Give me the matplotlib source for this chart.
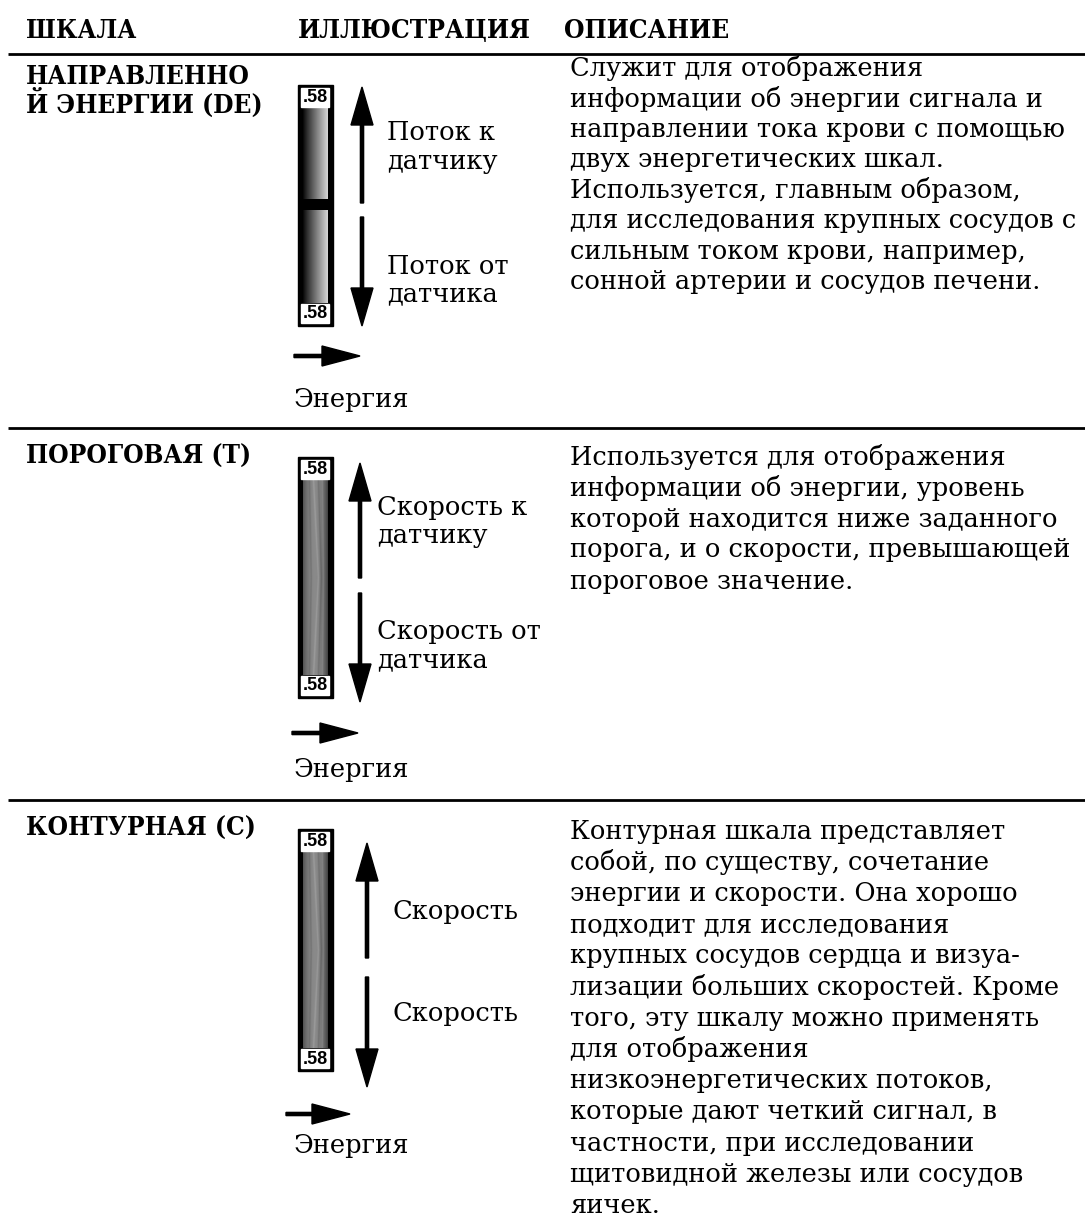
import numpy as np
import matplotlib
matplotlib.use("Agg")
import matplotlib.pyplot as plt
from matplotlib.patches import Rectangle, FancyArrow
from matplotlib import font_manager

# данные таблицы
headers = ["ШКАЛА", "ИЛЛЮСТРАЦИЯ", "ОПИСАНИЕ"]
scale_names = [["НАПРАВЛЕННО", "Й ЭНЕРГИИ (DE)"],
               ["ПОРОГОВАЯ (Т)"],
               ["КОНТУРНАЯ (С)"]]
up_labels = [["Поток к", "датчику"], ["Скорость к", "датчику"], ["Скорость"]]
down_labels = [["Поток от", "датчика"], ["Скорость от", "датчика"], ["Скорость"]]
energy_label = "Энергия"
bar_value = ".58"
descriptions = [
    ["Служит для отображения",
     "информации об энергии сигнала и",
     "направлении тока крови с помощью",
     "двух энергетических шкал.",
     "Используется, главным образом,",
     "для исследования крупных сосудов с",
     "сильным током крови, например,",
     "сонной артерии и сосудов печени."],
    ["Используется для отображения",
     "информации об энергии, уровень",
     "которой находится ниже заданного",
     "порога, и о скорости, превышающей",
     "пороговое значение."],
    ["Контурная шкала представляет",
     "собой, по существу, сочетание",
     "энергии и скорости. Она хорошо",
     "подходит для исследования",
     "крупных сосудов сердца и визуа-",
     "лизации больших скоростей. Кроме",
     "того, эту шкалу можно применять",
     "для отображения",
     "низкоэнергетических потоков,",
     "которые дают четкий сигнал, в",
     "частности, при исследовании",
     "щитовидной железы или сосудов",
     "яичек."],
]

# раскладка (пиксели)
row_top = [68, 457, 831]
row_step = [30.5, 31.0, 31.2]
title_top = [76, 456, 828]
bar_y = [(85, 326), (457, 698), (829, 1071)]
arrow_x = [362, 360, 367]
arrow_up = [(203, 87), (578, 463), (958, 843)]
arrow_dn = [(217, 326), (593, 702), (977, 1087)]
harrow = [(356, 294, 360), (733, 292, 358), (1114, 286, 350)]
energy_y = [400, 770, 1145]
up_y = [(133, 162), (508, 536), (912,)]
dn_y = [(267, 294), (632, 660), (1013,)]
lab_x = [387, 377, 393]
hlines = [54, 428, 800]

serif = "DejaVu Serif"
fs_body = 18.5

# жирный заголовок: узкое начертание, если оно есть
cond = font_manager.FontProperties(family=serif, weight="bold", stretch="condensed")
if "ondensed" in font_manager.findfont(cond, fallback_to_default=False):
    head_kw = dict(family=serif, fontweight="bold", fontstretch="condensed", fontsize=18.8)
else:
    head_kw = dict(family=serif, fontweight="bold", fontsize=16.8)

fig = plt.figure(figsize=(10.85, 12.30), dpi=100)
ax = fig.add_axes([0, 0, 1, 1])
ax.set_xlim(0, 1085)
ax.set_ylim(1230, 0)
ax.axis("off")

# заголовки
for x, h in zip([26, 298, 564], headers):
    ax.text(x, 30, h, va="center", ha="left", **head_kw)
for y in hlines:
    ax.plot([8, 1085], [y, y], color="black", lw=2.0, solid_capstyle="butt")


def gradient_img(kind, n=200):
    xs = np.linspace(0, 1, 40)
    if kind == 0:
        row = 0.03 + 0.80 * xs ** 0.9
        return np.tile(row, (n, 1))
    ys = np.linspace(-1, 1, n)[:, None]
    base = 0.16 + 0.38 * np.sin(np.pi * (0.1 + 0.85 * xs)) ** 0.7
    img = np.tile(base, (n, 1))
    # изогнутые светлые/темные линии
    for c, amp, v in [(0.42, 0.2, 0.08), (0.62, 0.12, -0.08), (0.78, 0.05, 0.08), (0.25, 0.08, -0.07)]:
        pos = c + amp * (1 - np.abs(ys))
        img = img + v * np.exp(-((xs[None, :] - pos) / 0.03) ** 2)
    return np.clip(img, 0, 1)


for i in range(3):
    y0, y1 = bar_y[i]
    ax.add_patch(Rectangle((298, y0), 35, y1 - y0, color="black", zorder=2))
    lab_top = (y0 + 3, y0 + 22)
    lab_bot = (y1 - 22, y1 - 3)
    g0, g1 = lab_top[1] + 1, lab_bot[0] - 1
    if i == 0:
        mid = (g0 + g1) / 2
        parts = [(g0, mid - 6), (mid + 5, g1)]
    else:
        parts = [(g0, g1)]
    for a, b in parts:
        ax.imshow(gradient_img(0 if i == 0 else 1), cmap="gray", vmin=0, vmax=1,
                  extent=(303, 328, b, a), aspect="auto", zorder=3, interpolation="bilinear")
    for a, b in [lab_top, lab_bot]:
        ax.add_patch(Rectangle((301, a), 28, b - a, color="white", zorder=4))
        ax.text(315, (a + b) / 2 + 0.5, bar_value, fontsize=13, family="Liberation Sans",
                fontweight="bold", ha="center", va="center", zorder=5)

    # стрелки
    x = arrow_x[i]
    t, h = arrow_up[i]
    ax.add_patch(FancyArrow(x, t, 0, h - t, width=3.2, head_width=22, head_length=38,
                            length_includes_head=True, color="black", zorder=3))
    t, h = arrow_dn[i]
    ax.add_patch(FancyArrow(x, t, 0, h - t, width=3.2, head_width=22, head_length=38,
                            length_includes_head=True, color="black", zorder=3))
    yy, xa, xb = harrow[i]
    ax.add_patch(FancyArrow(xa, yy, xb - xa, 0, width=3.2, head_width=20, head_length=38,
                            length_includes_head=True, color="black", zorder=3))

    ax.text(294, energy_y[i], energy_label, fontsize=fs_body, family=serif, va="center")
    for s, y in zip(up_labels[i], up_y[i]):
        ax.text(lab_x[i], y, s, fontsize=fs_body, family=serif, va="center")
    for s, y in zip(down_labels[i], dn_y[i]):
        ax.text(lab_x[i], y, s, fontsize=fs_body, family=serif, va="center")

    # название шкалы
    for k, s in enumerate(scale_names[i]):
        ax.text(26, title_top[i] + 27 * k, s, va="center", **head_kw)

    # описание
    for k, s in enumerate(descriptions[i]):
        ax.text(570, row_top[i] + row_step[i] * k, s, fontsize=fs_body, family=serif, va="center")

fig.savefig("out.png", dpi=100, facecolor="white")
